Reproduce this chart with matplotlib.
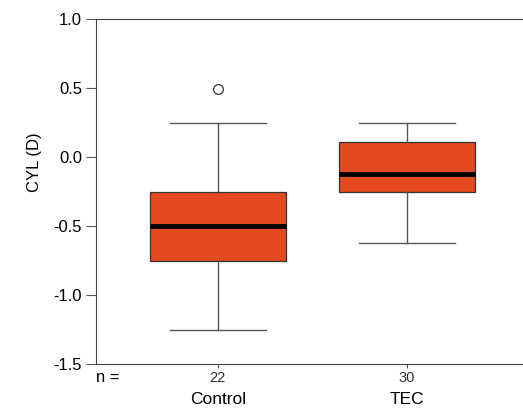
import matplotlib
matplotlib.use('Agg')
import matplotlib.pyplot as plt
from matplotlib.transforms import offset_copy

plt.rcParams['font.family'] = ['Liberation Sans', 'DejaVu Sans']

groups = ['Control', 'TEC']
n_counts = [22, 30]
medians = [-0.5, -0.125]
q1s = [-0.75, -0.25]
q3s = [-0.25, 0.11]
whis_lo = [-1.25, -0.625]
whis_hi = [0.25, 0.25]
outliers = [[0.49], []]

stats = []
for i in range(len(groups)):
    stats.append({'med': medians[i], 'q1': q1s[i], 'q3': q3s[i],
                  'whislo': whis_lo[i], 'whishi': whis_hi[i],
                  'fliers': outliers[i], 'label': str(n_counts[i])})

fig = plt.figure(figsize=(5.23, 4.12), dpi=100)
ax = fig.add_axes([96 / 523, 48 / 412, 1 - 96 / 523 + 0.01, 345 / 412])

ax.bxp(stats, positions=[1, 2], widths=0.72, patch_artist=True,
       boxprops=dict(facecolor='#e5491f', edgecolor='#333333', linewidth=0.9),
       medianprops=dict(color='black', linewidth=3.5),
       whiskerprops=dict(color='#555555', linewidth=1),
       capprops=dict(color='#555555', linewidth=1),
       capwidths=0.505,
       flierprops=dict(marker='o', markerfacecolor='white', markeredgecolor='#333333',
                       markersize=7, markeredgewidth=0.9))

ax.set_xlim(0.356, 2.64)
ax.set_ylim(-1.5, 1.0)
ax.set_yticks([-1.5, -1.0, -0.5, 0.0, 0.5, 1.0])
ax.set_yticklabels(['-1.5', '-1.0', '-0.5', '0.0', '0.5', '1.0'], fontsize=12)
ax.set_xticks([1, 2])
ax.set_xticklabels([str(n) for n in n_counts], fontsize=10.5, color='#333333')
ax.tick_params(axis='x', length=3, pad=2, color='#555555')
ax.tick_params(axis='y', length=7, pad=3, color='#555555')
ax.spines['right'].set_visible(False)
for s in ['left', 'top', 'bottom']:
    ax.spines[s].set_color('#444444')
ax.set_ylabel('CYL (D)', fontsize=12)
ax.yaxis.set_label_coords(-0.125, 0.585)

# group names under the n labels
name_tr = offset_copy(ax.get_xaxis_transform(), fig=fig, y=-36 * 72 / 100, units='points')
for i, g in enumerate(groups):
    ax.text(i + 1, 0, g, transform=name_tr, ha='center', va='center',
            fontsize=12.5, color='black')

n_tr = offset_copy(ax.transAxes, fig=fig, y=-14 * 72 / 100, units='points')
ax.text(0, 0, 'n =', transform=n_tr, ha='left', va='center', fontsize=12)

fig.savefig('out.png', dpi=100)
